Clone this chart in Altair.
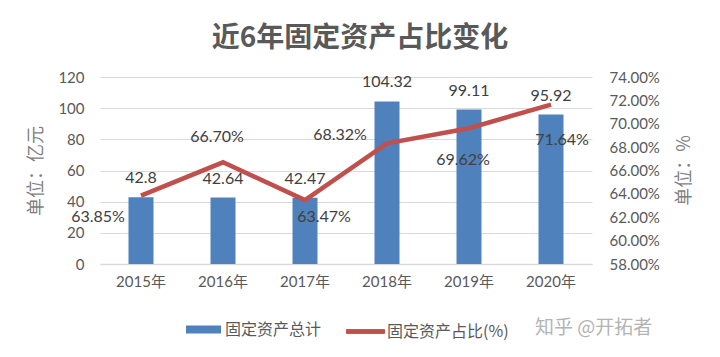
import altair as alt
import pandas as pd

years = ["2015年", "2016年", "2017年", "2018年", "2019年", "2020年"]
totals = [42.8, 42.64, 42.47, 104.32, 99.11, 95.92]
ratios = [0.6385, 0.6670, 0.6347, 0.6832, 0.6962, 0.7164]
bar_name = "固定资产总计"
line_name = "固定资产占比(%)"
title_text = "近6年固定资产占比变化"
watermark = "知乎 @开拓者"

df = pd.DataFrame({"year": years, "total": totals, "ratio": ratios,
                   "s1": [bar_name] * 6, "s2": [line_name] * 6})

# label offsets (style) for percentage labels
pct_offsets = {
    "2015年": (-43, 21), "2016年": (-6, -25), "2017年": (19, 17),
    "2018年": (-47, -8), "2019年": (-6, 32), "2020年": (11, 35),
}

NUM_FONT = "Lato, 'Noto Sans CJK SC'"
CJK_FONT = "'Noto Sans CJK SC'"

x_enc = alt.X("year:N", sort=years, title=None,
              scale=alt.Scale(paddingInner=0, paddingOuter=0),
              axis=alt.Axis(labelAngle=0, ticks=False, domainColor="#d9d9d9",
                            domainWidth=1.5, labelFont=NUM_FONT, labelFontSize=15,
                            labelColor="#595959", labelPadding=10, grid=False))

left_axis = alt.Axis(values=[0, 20, 40, 60, 80, 100, 120], grid=True, gridColor="#d9d9d9",
                     gridWidth=1.2, domain=False, ticks=False, labelFont=NUM_FONT,
                     labelFontSize=15, labelColor="#595959", labelPadding=16,
                     title="单位：亿元", titleFont=CJK_FONT, titleFontSize=18,
                     titleFontWeight="normal", titleColor="#7f7f7f", titlePadding=12)
yl = alt.Y("total:Q", scale=alt.Scale(domain=[0, 120], nice=False), axis=left_axis)

right_axis = alt.Axis(values=[0.58, 0.60, 0.62, 0.64, 0.66, 0.68, 0.70, 0.72, 0.74],
                      format=".2%", grid=False, domain=False, ticks=False,
                      labelFont=NUM_FONT, labelFontSize=15, labelColor="#595959",
                      labelPadding=17, title="单位：%", titleFont=CJK_FONT,
                      titleFontSize=18, titleFontWeight="normal", titleColor="#7f7f7f",
                      titleAngle=270, titleX=92, titleY=93, titleAlign="center",
                      titleBaseline="middle", orient="right")
yr = alt.Y("ratio:Q", scale=alt.Scale(domain=[0.58, 0.74], nice=False, zero=False),
           axis=right_axis)

base = alt.Chart(df)

bars = base.mark_bar(size=25, color="#4F81BD").encode(
    x=x_enc, y=yl,
    color=alt.Color("s1:N", scale=alt.Scale(domain=[bar_name], range=["#4F81BD"]),
                    legend=alt.Legend(orient="none", legendX=86, legendY=235, title=None,
                                      symbolType="M-1,-0.23H1V0.23H-1Z", symbolSize=1225,
                                      symbolStrokeWidth=0, labelFont=CJK_FONT,
                                      labelFontSize=16, labelColor="#595959",
                                      labelOffset=4, padding=0)))
bar_labels = base.mark_text(dy=-19, font=NUM_FONT, fontSize=16, color="#404040").encode(
    x=x_enc, y=yl, text=alt.Text("total:Q"))

left = alt.layer(bars, bar_labels)

line = base.mark_line(strokeWidth=4.5, color="#C0504D").encode(
    x=x_enc, y=yr,
    color=alt.Color("s2:N", scale=alt.Scale(domain=[line_name], range=["#C0504D"]),
                    legend=alt.Legend(orient="none", legendX=246, legendY=235, title=None,
                                      symbolType="M-1,-0.1H1V0.1H-1Z", symbolSize=1444,
                                      symbolFillColor="#C0504D", symbolStrokeColor="#C0504D",
                                      symbolStrokeWidth=1, labelFont=CJK_FONT,
                                      labelFontSize=16, labelColor="#595959",
                                      labelOffset=2, padding=0)))

pct_layers = []
for yv in years:
    dx, dy = pct_offsets[yv]
    pct_layers.append(
        base.transform_filter(alt.datum.year == yv).mark_text(
            dx=dx, dy=dy, font=NUM_FONT, fontSize=16, color="#404040").encode(
            x=x_enc, y=yr, text=alt.Text("ratio:Q", format=".2%")))

right = alt.layer(line, *pct_layers)

wm = alt.Chart(pd.DataFrame({"t": [watermark]})).mark_text(
    align="left", baseline="middle", font=CJK_FONT, fontSize=19, color="#b3b3b3").encode(
    text="t:N", x=alt.value(435), y=alt.value(251))

chart = alt.layer(left, right, wm).resolve_scale(
    y="independent", color="independent").properties(
    width=492, height=187,
    padding={"left": 92, "top": 69, "right": 120, "bottom": 85},
    autosize=alt.AutoSizeParams(type="none"),
    title=alt.Title(title_text, fontSize=28, font=CJK_FONT, fontWeight="bold",
                    color="#595959", anchor="middle", offset=17, dx=14),
).configure_view(stroke=None)

chart.save("out.html", embed_options={"renderer": "svg", "actions": False})
